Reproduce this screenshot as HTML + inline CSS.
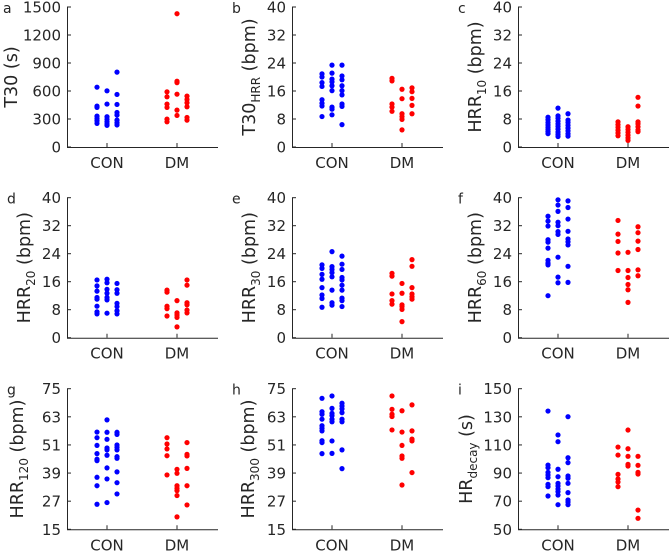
<!DOCTYPE html>
<html><head><meta charset="utf-8">
<style>
html,body{margin:0;padding:0;background:#fff;}
svg{display:block;font-family:"DejaVu Sans","Liberation Sans",sans-serif;}
text{fill:#262626;}
</style></head>
<body>
<svg id="chart" width="669" height="551" viewBox="0 0 669 551" xmlns="http://www.w3.org/2000/svg"></svg>
<script>
// ---- data (per panel): [column-jitter, value] ----
const categories = ["CON","DM"];
const panelLetters = ["a","b","c","d","e","f","g","h","i"];
const yMin = [0,0,0,0,0,0,15,15,50];
const yMax = [1500,40,40,40,40,40,75,75,150];
const yTicks = [
  [0,300,600,900,1200,1500],[0,8,16,24,32,40],[0,8,16,24,32,40],
  [0,8,16,24,32,40],[0,8,16,24,32,40],[0,8,16,24,32,40],
  [15,27,39,51,63,75],[15,27,39,51,63,75],[50,70,90,110,130,150]];
const yLabelMain = ["T30 (s)","T30","HRR","HRR","HRR","HRR","HRR","HRR","HR"];
const yLabelSub = ["","HRR","10","20","30","60","120","300","decay"];
const yLabelUnit = [""," (bpm)"," (bpm)"," (bpm)"," (bpm)"," (bpm)"," (bpm)"," (bpm)"," (s)"];

const conA = [[-1,641],[-1,438],[-1,424],[-1,331],[-1,306],[-1,281],[-1,253],[0,602],[0,460],[0,324],[0,296],[0,270],[0,246],[0,232],[1,802],[1,563],[1,456],[1,370],[1,342],[1,288],[1,260],[1,236]];
const dmA = [[-1,591],[-1,538],[-1,460],[-1,424],[-1,299],[-1,270],[0,1428],[0,705],[0,690],[0,566],[0,395],[0,338],[1,545],[1,509],[1,474],[1,431],[1,317],[1,288]];
const conB = [[-1,20.9],[-1,20],[-1,18.4],[-1,17.3],[-1,13.5],[-1,12.5],[-1,11.7],[-1,8.7],[0,23.4],[0,21.1],[0,19.4],[0,18.6],[0,17.5],[0,16.1],[0,11.4],[0,10.8],[0,9.2],[1,23.4],[1,20.3],[1,19.2],[1,17.5],[1,16.1],[1,14.9],[1,12.3],[1,11.6],[1,6.4]];
const dmB = [[-1,19.6],[-1,18.9],[-1,12.3],[-1,11.4],[-1,10.2],[0,16.5],[0,13.8],[0,9.5],[0,8.7],[0,7.9],[0,4.9],[1,16.9],[1,15.8],[1,13.9],[1,11.9],[1,9.5]];
const conC = [[-1,8.5],[-1,7.8],[-1,7],[-1,6.3],[-1,5.6],[-1,5],[-1,4.4],[-1,3.8],[0,11.1],[0,8.9],[0,8.2],[0,7.4],[0,6.6],[0,5.9],[0,5.1],[0,4.3],[0,3.6],[0,3],[1,9.5],[1,7.7],[1,7],[1,6.2],[1,5.4],[1,4.6],[1,3.8],[1,3.1]];
const dmC = [[-1,7.2],[-1,6.4],[-1,5.6],[-1,4.8],[-1,4],[-1,3.2],[0,5.8],[0,5],[0,4.2],[0,3.4],[0,2.6],[0,1.9],[1,14.2],[1,11.7],[1,7.2],[1,6.6],[1,5.8],[1,4.9],[1,4.4]];
const conD = [[-1,16.5],[-1,14.8],[-1,13.3],[-1,11.5],[-1,11],[-1,9],[-1,7.4],[-1,6.8],[0,16.7],[0,15.7],[0,13.8],[0,12.7],[0,11.5],[0,10.8],[0,7],[1,15.5],[1,13.7],[1,12.7],[1,9.8],[1,8.9],[1,7.7],[1,6.8]];
const dmD = [[-1,13.6],[-1,13],[-1,9],[-1,8.3],[-1,6.2],[0,10.6],[0,7.1],[0,6.5],[0,5.8],[0,3.1],[1,16.5],[1,15],[1,10],[1,9.4],[1,7.9],[1,7.1]];
const conE = [[-1,20.8],[-1,19.8],[-1,18.1],[-1,16.7],[-1,14.3],[-1,12.2],[-1,11.2],[-1,8.7],[0,24.6],[0,20.3],[0,19.5],[0,18.6],[0,17.4],[0,13.6],[0,10],[0,9.3],[1,23.3],[1,21],[1,19.5],[1,17.2],[1,16.5],[1,15],[1,13.6],[1,11.3],[1,10.6],[1,8.9]];
const dmE = [[-1,18.4],[-1,17.6],[-1,12.5],[-1,10.6],[-1,9.6],[0,15.5],[0,12.7],[0,9.4],[0,8.9],[0,8.1],[0,4.6],[1,22.3],[1,20.4],[1,14.3],[1,12.5],[1,11.7],[1,11]];
const conF = [[-1,34.7],[-1,33.3],[-1,31.9],[-1,28],[-1,27.3],[-1,25.6],[-1,22.1],[-1,21.3],[-1,20.8],[-1,12],[0,39.4],[0,37.9],[0,36.1],[0,33],[0,32],[0,30.3],[0,29.5],[0,23],[0,17.3],[0,15.7],[1,39.1],[1,37.2],[1,33.9],[1,30.4],[1,28.2],[1,27.4],[1,26.5],[1,20.4],[1,15.8]];
const dmF = [[-1,33.5],[-1,29.6],[-1,27.5],[-1,24.2],[-1,19.2],[0,24.4],[0,19.2],[0,17.2],[0,15.2],[0,13.7],[0,10.1],[1,31.7],[1,30],[1,27.6],[1,25.2],[1,19.4],[1,17.7]];
const conG = [[-1,56.5],[-1,54.1],[-1,50.8],[-1,47.3],[-1,44.9],[-1,44.3],[-1,37.2],[-1,33.6],[-1,25.7],[0,61.7],[0,56.4],[0,53.4],[0,49.7],[0,48.9],[0,46.6],[0,41.2],[0,36.5],[0,26.4],[1,56.4],[1,55.5],[1,51],[1,50],[1,48.9],[1,46],[1,45.3],[1,39.5],[1,34.9],[1,30.1]];
const dmG = [[-1,54.1],[-1,51.4],[-1,49.3],[-1,46.4],[-1,38.2],[0,40.6],[0,38.9],[0,33.6],[0,32.5],[0,31.5],[0,29.4],[0,20.3],[1,52],[1,47],[1,46.3],[1,41],[1,33.6],[1,25.4]];
const conH = [[-1,70.9],[-1,65.2],[-1,64.1],[-1,62],[-1,59.2],[-1,58.1],[-1,57],[-1,52.8],[-1,52],[-1,47.3],[0,71.9],[0,66.6],[0,64.5],[0,63.5],[0,62],[0,60.9],[0,52.7],[0,47.4],[1,68.8],[1,67.6],[1,66.4],[1,64.8],[1,62],[1,60.9],[1,48.9],[1,40.9]];
const dmH = [[-1,71.9],[-1,66.2],[-1,64.1],[-1,63.1],[-1,57.4],[0,65.6],[0,56.5],[0,50.8],[0,46.3],[0,45.3],[0,33.9],[1,68.1],[1,57],[1,53.5],[1,52.7],[1,39.2]];
const conI = [[-1,134.1],[-1,95.7],[-1,93.8],[-1,90.5],[-1,88.6],[-1,86.7],[-1,82],[-1,80.3],[-1,73.7],[0,117.1],[0,112.3],[0,92.7],[0,87.4],[0,82.7],[0,80.8],[0,78.7],[0,76.8],[0,74.4],[0,67.5],[1,130.1],[1,100.9],[1,97.4],[1,87.9],[1,86.3],[1,82.7],[1,76.1],[1,70.9],[1,69.4],[1,67.5]];
const dmI = [[-1,108.5],[-1,102.8],[-1,89.1],[-1,85.8],[-1,83.6],[-1,80.3],[0,120.6],[0,107.3],[0,101.9],[0,96.2],[0,95],[1,101.9],[1,95.5],[1,90.5],[1,89.3],[1,63.7],[1,57.8]];
const conSeries = [conA,conB,conC,conD,conE,conF,conG,conH,conI];
const dmSeries = [dmA,dmB,dmC,dmD,dmE,dmF,dmG,dmH,dmI];

// ---- layout ----
const NS = "http://www.w3.org/2000/svg";
const svg = document.getElementById("chart");
const colLeft = [67,292,518];
const rowTop = [7,197.7,388.7];
const rowBottom = [147,337.7,529.3];
const labelOffset = [50,37,37,37,37,37,44,38,46];
const axisW = 151;
const ink = "#262626";

function mk(tag, attrs, parent){
  const e = document.createElementNS(NS, tag);
  for (const k in attrs) e.setAttribute(k, attrs[k]);
  (parent||svg).appendChild(e);
  return e;
}

for (let p = 0; p < 9; p++){
  const L = colLeft[p%3], T = rowTop[Math.floor(p/3)], B = rowBottom[Math.floor(p/3)];
  const g = mk("g", {});
  
  
  const yS = v => B - (v - yMin[p]) / (yMax[p] - yMin[p]) * (B - T);
  const xS = c => L + 40 + c * 70;

  const ax = mk("path", {d:`M${L+0.5},${T} V${B+0.5} H${L+axisW}`, fill:"none", stroke:ink, "stroke-width":1}, g);
  
  

  yTicks[p].forEach(v => {
    const y = yS(v);
    mk("line", {x1:L, x2:L+4, y1:y, y2:y, stroke:ink, "stroke-width":1}, g);
    const t = mk("text", {x:L-6, y:y+5.5, "text-anchor":"end", "font-size":15}, g);
    t.textContent = v;
    
    
  });
  categories.forEach((c, i) => {
    const x = xS(i);
    mk("line", {x1:x, x2:x, y1:B, y2:B-4, stroke:ink, "stroke-width":1}, g);
    const t = mk("text", {x:x, y:B+21, "text-anchor":"middle", "font-size":15}, g);
    t.textContent = c;
    
    
  });

  const lx = L - labelOffset[p];
  const ly = (T+B)/2;
  const yl = mk("text", {transform:`translate(${lx},${ly}) rotate(-90)`, "text-anchor":"middle", "font-size":17.5}, g);
  
  
  const m = mk("tspan", {}, yl); m.textContent = yLabelMain[p];
  if (yLabelSub[p]){
    const s = mk("tspan", {dy:5, "font-size":12}, yl); s.textContent = yLabelSub[p];
    const u = mk("tspan", {dy:-5}, yl); u.textContent = yLabelUnit[p];
  }

  const lt = mk("text", {x: p===0 ? L-64 : L-60, y:T+6, "font-size":14}, g);
  lt.textContent = panelLetters[p];
  
  

  conSeries[p].forEach(d => {
    const c = mk("circle", {cx:xS(0)+d[0]*10, cy:yS(d[1]), r:2.6, fill:"#0000ff"}, g);
    
    
  });
  dmSeries[p].forEach(d => {
    const c = mk("circle", {cx:xS(1)+d[0]*10, cy:yS(d[1]), r:2.6, fill:"#ff0000"}, g);
    
    
  });
}
</script>
</body></html>
